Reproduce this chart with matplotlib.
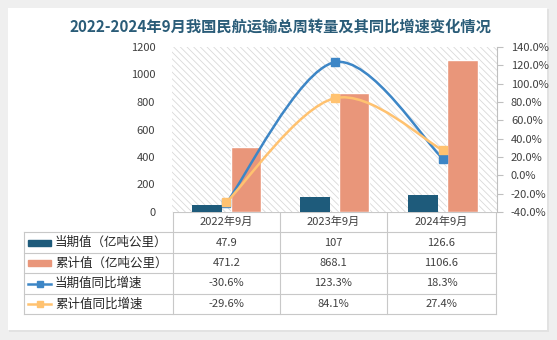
import matplotlib
matplotlib.use("Agg")
import matplotlib.pyplot as plt
from matplotlib.path import Path
from matplotlib.patches import PathPatch, Rectangle
from matplotlib.lines import Line2D

plt.rcParams['font.family'] = ['Noto Sans CJK SC', 'DejaVu Sans']
plt.rcParams['hatch.linewidth'] = 0.6
plt.rcParams['hatch.color'] = '#d6d6d6'

# 数据
categories = ['2022年9月', '2023年9月', '2024年9月']
dangqi = [47.9, 107, 126.6]          # 当期值（亿吨公里）
leiji = [471.2, 868.1, 1106.6]       # 累计值（亿吨公里）
dangqi_tb = [-30.6, 123.3, 18.3]     # 当期值同比增速 %
leiji_tb = [-29.6, 84.1, 27.4]       # 累计值同比增速 %
series_names = ['当期值（亿吨公里）', '累计值（亿吨公里）', '当期值同比增速', '累计值同比增速']

c_dark = '#1e5b7b'
c_salmon = '#e9967a'
c_blue = '#3d86c6'
c_orange = '#ffc270'
c_text = '#404040'
c_grid = '#c8c8c8'

W, H = 557, 340
fig = plt.figure(figsize=(W / 100, H / 100), dpi=100)
fig.patch.set_facecolor('#efefef')

# 画布坐标（像素）
bg = fig.add_axes([0, 0, 1, 1])
bg.set_xlim(0, W)
bg.set_ylim(H, 0)
bg.axis('off')
# 卡片阴影 + 白底
bg.add_patch(Rectangle((9, 9), 540, 323, facecolor='#e2e2e2', lw=0))
bg.add_patch(Rectangle((8, 8), 539, 322, facecolor='white', lw=0))

bg.text(280, 27, '2022-2024年9月我国民航运输总周转量及其同比增速变化情况', ha='center', va='center',
        fontsize=11, fontweight='bold', color='#2a5c78')

# 主图
x0, x1, y0, y1 = 172, 497, 47, 212
ax = fig.add_axes([x0 / W, 1 - y1 / H, (x1 - x0) / W, (y1 - y0) / H])
ax.patch.set_alpha(0)
ax.add_patch(Rectangle((0, 0), 1, 1, transform=ax.transAxes, facecolor='white',
                       hatch='\\\\\\\\\\', edgecolor='#d9d9d9', lw=0, zorder=0))
xs = list(range(len(categories)))
bw = 0.28
ax.bar([x - 0.18 for x in xs], dangqi, width=bw, color=c_dark, zorder=2)
ax.bar([x + 0.18 for x in xs], leiji, width=bw, color=c_salmon, edgecolor='white', lw=1, zorder=2)
ax.set_xlim(-0.5, len(categories) - 0.5)
ax.set_ylim(0, 1200)
ax.set_yticks(range(0, 1201, 200))
ax.set_xticks([])
for s in ax.spines.values():
    s.set_visible(False)
ax.tick_params(axis='y', length=0, pad=12, labelsize=8, labelcolor=c_text)

ax2 = ax.twinx()
ax2.set_ylim(-40, 140)
ax2.set_yticks(range(-40, 141, 20))
ax2.set_yticklabels(['%.1f%%' % v for v in range(-40, 141, 20)])
for k in ['left', 'top', 'bottom']:
    ax2.spines[k].set_visible(False)
ax2.spines['right'].set_color('#bfbfbf')
ax2.tick_params(axis='y', length=4, color='#bfbfbf', pad=6, labelsize=8, labelcolor=c_text)


def smooth_path(xv, yv):
    # 类似 Excel 的平滑线（贝塞尔曲线）
    pts = list(zip(xv, yv))
    n = len(pts)
    verts = [pts[0]]
    codes = [Path.MOVETO]
    for i in range(n - 1):
        p0 = pts[max(i - 1, 0)]
        p1 = pts[i]
        p2 = pts[i + 1]
        p3 = pts[min(i + 2, n - 1)]
        c1 = (p1[0] + (p2[0] - p0[0]) / 6, p1[1] + (p2[1] - p0[1]) / 6)
        c2 = (p2[0] - (p3[0] - p1[0]) / 6, p2[1] - (p3[1] - p1[1]) / 6)
        verts += [c1, c2, p2]
        codes += [Path.CURVE4] * 3
    return Path(verts, codes)


for vals, col in [(dangqi_tb, c_blue), (leiji_tb, c_orange)]:
    ax2.add_patch(PathPatch(smooth_path(xs, vals), facecolor='none', edgecolor=col, lw=1.8, zorder=3))
    ax2.plot(xs, vals, ls='none', marker='s', ms=6, color=col, zorder=4)

# 数据表
col_x = [24, 173, 280, 387, 496]
row_y = [212, 232, 253, 273, 294, 314]
for y in row_y[1:]:
    bg.plot([col_x[0], col_x[-1]], [y, y], color=c_grid, lw=0.8)
bg.plot([col_x[1], col_x[-1]], [row_y[0], row_y[0]], color=c_grid, lw=0.8)
bg.plot([col_x[0], col_x[0]], [row_y[1], row_y[-1]], color=c_grid, lw=0.8)
for x in col_x[1:]:
    bg.plot([x, x], [row_y[0], row_y[-1]], color=c_grid, lw=0.8)

for j, cat in enumerate(categories):
    cx = (col_x[j + 1] + col_x[j + 2]) / 2
    bg.text(cx, (row_y[0] + row_y[1]) / 2, cat, ha='center', va='center', fontsize=8, color=c_text)

table_rows = [dangqi, leiji, ['%.1f%%' % v for v in dangqi_tb], ['%.1f%%' % v for v in leiji_tb]]
for i, row in enumerate(table_rows):
    cy = (row_y[i + 1] + row_y[i + 2]) / 2
    for j, v in enumerate(row):
        cx = (col_x[j + 1] + col_x[j + 2]) / 2
        bg.text(cx, cy, str(v), ha='center', va='center', fontsize=8, color=c_text)
    # 图例
    if i < 2:
        bg.add_patch(Rectangle((28, cy - 3), 23, 6, color=[c_dark, c_salmon][i]))
    else:
        col = [c_blue, c_orange][i - 2]
        bg.add_line(Line2D([28, 51], [cy, cy], color=col, lw=1.8))
        bg.add_line(Line2D([39.5], [cy], marker='s', ms=5, color=col))
    bg.text(55, cy, series_names[i], ha='left', va='center', fontsize=9, color='#262626')

fig.savefig('out.png', dpi=100, facecolor=fig.get_facecolor())
